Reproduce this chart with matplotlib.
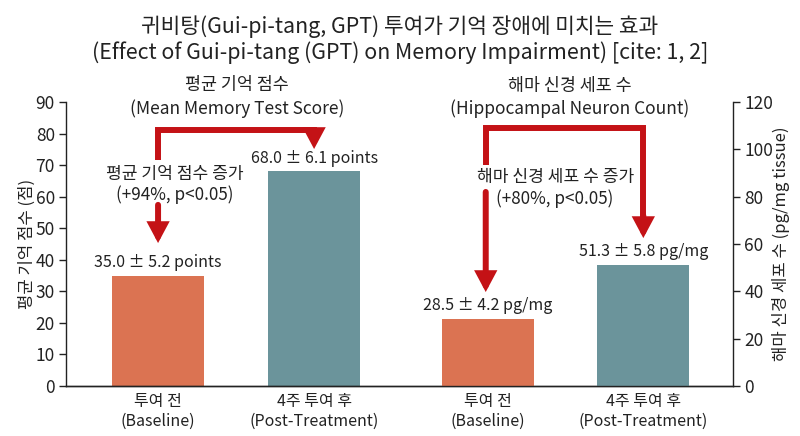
import matplotlib
matplotlib.use("Agg")
import matplotlib.pyplot as plt
import numpy as np

plt.rcParams['font.family'] = ['Noto Sans CJK KR', 'DejaVu Sans']

# data
groups = ['투여 전\n(Baseline)', '4주 투여 후\n(Post-Treatment)',
          '투여 전\n(Baseline)', '4주 투여 후\n(Post-Treatment)']
memory_score = [35.0, 68.0]
memory_sd = [5.2, 6.1]
neuron_count = [28.5, 51.3]
neuron_sd = [4.2, 5.8]
memory_ticks = [0, 10, 20, 30, 40, 50, 60, 70, 80, 90]
neuron_ticks = [0, 20, 40, 60, 80, 100, 120]

orange = '#DB7352'
teal = '#6B949B'
red = '#C41216'
dark = '#222222'

x = np.array([0.0, 1.0, 2.115, 3.11])
bw = 0.59

fig = plt.figure(figsize=(8, 4.36), dpi=100)
ax = fig.add_axes([0.0825, 0.1147, 0.834, 0.6513])
ax2 = ax.twinx()

ax.bar(x[:2], memory_score, width=bw, color=[orange, teal])
ax2.bar(x[2:], neuron_count, width=bw, color=[orange, teal])

ax.set_xlim(-0.59, 3.686)
ax.set_ylim(0, 90)
ax2.set_ylim(0, 120)
ax.set_yticks(memory_ticks)
ax2.set_yticks(neuron_ticks)
ax.set_xticks(x)
ax.set_xticklabels(groups, fontsize=11.5, color=dark, linespacing=1.25)
ax.tick_params(axis='x', length=0, pad=5)
ax.tick_params(axis='y', labelsize=12.5, colors=dark, length=5, width=1, pad=3)
ax2.tick_params(axis='y', labelsize=12.5, colors=dark, length=5, width=1, pad=3)

for a in (ax, ax2):
    a.spines['top'].set_visible(False)
    for s in ('left', 'right', 'bottom'):
        a.spines[s].set_color(dark)
        a.spines[s].set_linewidth(1)
ax.spines['right'].set_visible(False)
ax2.spines['left'].set_visible(False)

ax.set_ylabel('평균 기억 점수 (점)', fontsize=12, color=dark, labelpad=0)
ax2.set_ylabel('해마 신경 세포 수 (pg/mg tissue)', fontsize=12, color=dark, labelpad=-1)

# value labels
for xi, v, sd in zip(x[:2], memory_score, memory_sd):
    ax.annotate(f'{v:.1f} ± {sd:.1f} points', (xi, v), xytext=(0, 3),
                textcoords='offset points', ha='center', va='bottom',
                fontsize=11.5, color=dark)
for xi, v, sd in zip(x[2:], neuron_count, neuron_sd):
    ax2.annotate(f'{v:.1f} ± {sd:.1f} pg/mg', (xi, v), xytext=(0, 3),
                 textcoords='offset points', ha='center', va='bottom',
                 fontsize=11.5, color=dark)

# panel titles
ax.text(0.506, 91.6, '평균 기억 점수\n(Mean Memory Test Score)', ha='center',
        va='center', fontsize=12.5, color=dark, linespacing=1.3, clip_on=False)
ax2.text(2.64, 122.1, '해마 신경 세포 수\n(Hippocampal Neuron Count)', ha='center',
         va='center', fontsize=12.5, color=dark, linespacing=1.3, clip_on=False)

lw = 4.3
head = dict(arrowstyle='-|>,head_width=0.4,head_length=0.75', lw=lw, color=red,
            mutation_scale=12, shrinkA=0, shrinkB=0, joinstyle='miter')

# left bracket arrow
top_l = 81.1
ax.plot([x[0], x[0], x[1], x[1]], [71.6, top_l, top_l, 78], color=red, lw=lw,
        solid_joinstyle='miter', solid_capstyle='butt')
ax.annotate('', xy=(x[1], memory_score[1] + 7.1), xytext=(x[1], 79), arrowprops=head)
ax.annotate('', xy=(x[0], memory_score[0] + 10.3), xytext=(x[0], 57.4), arrowprops=head)
ax.text(0.11, 63.9, '평균 기억 점수 증가\n(+94%, p<0.05)', ha='center', va='center',
        fontsize=12.3, color=dark, linespacing=1.2)

# right bracket arrow
xl, xr = 2.10, 3.11
top_r = 109
ax2.plot([xl, xl, xr, xr], [93.4, top_r, top_r, 70], color=red, lw=lw,
         solid_joinstyle='miter', solid_capstyle='butt')
ax2.annotate('', xy=(xr, neuron_count[1] + 11.2), xytext=(xr, 72), arrowprops=head)
ax2.annotate('', xy=(xl, neuron_count[0] + 11.2), xytext=(xl, 82), arrowprops=head)
ax.text(2.545, 62.7, '해마 신경 세포 수 증가\n(+80%, p<0.05)', ha='center', va='center',
        fontsize=12.3, color=dark, linespacing=1.2)

fig.text(0.5, 0.965, '귀비탕(Gui-pi-tang, GPT) 투여가 기억 장애에 미치는 효과\n'
         '(Effect of Gui-pi-tang (GPT) on Memory Impairment) [cite: 1, 2]',
         ha='center', va='top', fontsize=15.4, color=dark, linespacing=1.2)

fig.savefig('out.png', dpi=100)
